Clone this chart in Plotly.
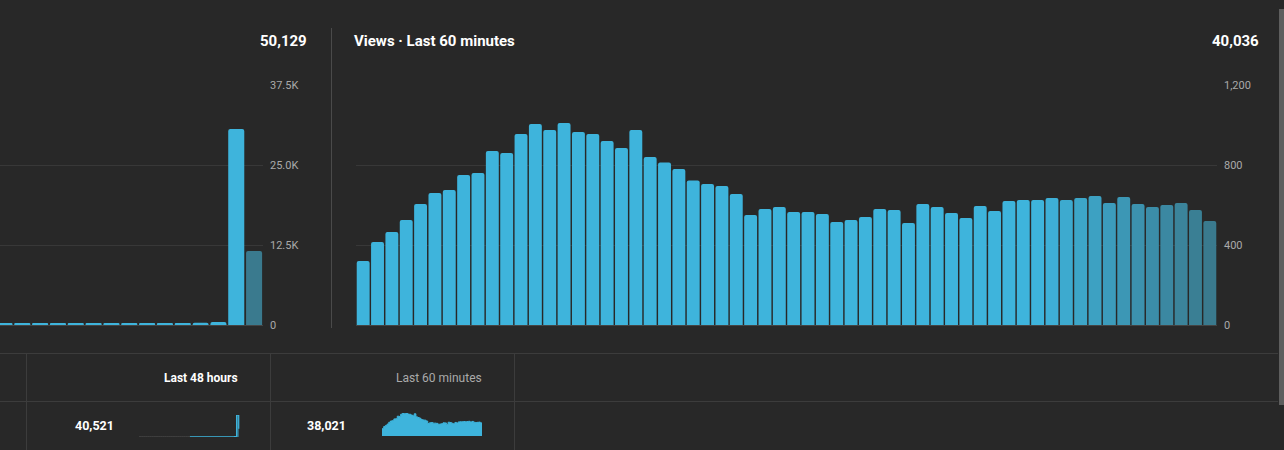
import plotly.graph_objects as go

# ---------------- data ----------------
hours = list(range(48))
hourly_views = [0] * 24 + [180, 200, 190, 210, 220, 200, 230, 210, 240, 250,
                           230, 260, 250, 240, 260, 270, 250, 260, 270, 280,
                           360, 470, 30625, 11560]

minutes = list(range(60))
minute_views = [320, 415, 465, 525, 605, 660, 675, 750, 760, 870,
                860, 955, 1005, 975, 1010, 965, 955, 920, 885, 975,
                840, 813, 780, 723, 705, 695, 655, 550, 580, 590,
                565, 565, 555, 515, 525, 540, 580, 575, 510, 605,
                590, 560, 535, 595, 570, 620, 625, 625, 635, 625,
                635, 645, 610, 640, 605, 590, 600, 610, 575, 520]

left_ticks = [0, 12500, 25000, 37500]
left_ticktext = ["0", "12.5K", "25.0K", "37.5K"]
right_ticks = [0, 400, 800, 1200]
right_ticktext = ["0", "400", "800", "1,200"]

total_48h = "50,129"
total_60m = "40,036"
title_60m = "Views · Last 60 minutes"
tab_48h = "Last 48 hours"
tab_60m = "Last 60 minutes"
spark_48h_total = "40,521"
spark_60m_total = "38,021"

# ---------------- styles ----------------
W, H = 1284, 450
BG = "#282828"
BLUE = (62, 180, 220)
DARK = (58, 122, 142)
GRID = "#383838"
TICK = "#aaaaaa"
FONT = "Roboto"


def mix(a, b, t):
    return "rgb(%d,%d,%d)" % tuple(round(a[i] + (b[i] - a[i]) * t) for i in range(3))


def fade_colors(n, nfade):
    cols = []
    for i in range(n):
        k = i - (n - nfade)
        t = 0 if k < 0 else (k + 1) / nfade
        cols.append(mix(BLUE, DARK, t))
    return cols


left_colors = [mix(BLUE, DARK, 0)] * (len(hours) - 1) + [mix(BLUE, DARK, 1)]
right_colors = fade_colors(len(minutes), 12)


def px_x(x):
    return x / W


def px_y(y):
    return 1 - y / H


fig = go.Figure()

# Left chart (last 48 hours, cropped at page edge)
fig.add_trace(go.Bar(x=hours, y=hourly_views, marker=dict(color=left_colors, cornerradius=2,
                     line=dict(width=0)), xaxis="x", yaxis="y", hoverinfo="skip",
                     showlegend=False))
# Right chart (last 60 minutes)
fig.add_trace(go.Bar(x=minutes, y=minute_views, marker=dict(color=right_colors, cornerradius=2,
                     line=dict(width=0)), xaxis="x2", yaxis="y2", hoverinfo="skip",
                     showlegend=False))

# Sparkline 48h
n_empty = 24
fig.add_trace(go.Scatter(x=hours[:n_empty + 1], y=hourly_views[:n_empty + 1], mode="lines",
                         line=dict(color="#555555", width=1, shape="hv"),
                         xaxis="x3", yaxis="y3", hoverinfo="skip", showlegend=False))
fig.add_trace(go.Scatter(x=hours[n_empty:], y=hourly_views[n_empty:], mode="lines",
                         line=dict(color="#3eb4dc", width=1.2, shape="hv"), fill="tozeroy",
                         fillcolor="rgba(62,180,220,0.6)",
                         xaxis="x3", yaxis="y3", hoverinfo="skip", showlegend=False))
# Sparkline 60m
fig.add_trace(go.Scatter(x=minutes, y=minute_views, mode="lines",
                         line=dict(color="#3eb4dc", width=1, shape="hv"), fill="tozeroy",
                         fillcolor="#3eb4dc",
                         xaxis="x4", yaxis="y4", hoverinfo="skip", showlegend=False))

ydom = [px_y(325), px_y(85)]
axis_common = dict(showgrid=False, zeroline=False, showticklabels=False, fixedrange=True,
                   automargin=False)

fig.update_layout(
    template="none",
    width=W, height=H, margin=dict(l=0, r=0, t=0, b=0, pad=0, autoexpand=False),
    paper_bgcolor=BG, plot_bgcolor=BG,
    font=dict(family=FONT, color=TICK, size=11),
    bargap=0.1,
    xaxis=dict(domain=[0, px_x(263)], range=[32.75, 47.5], **axis_common,
               showline=True, linecolor="#444444", linewidth=1),
    yaxis=dict(domain=ydom, range=[0, 37500], side="right", tickvals=left_ticks,
               ticktext=left_ticktext, showgrid=True, gridcolor=GRID, gridwidth=1,
               zeroline=False, ticks="", ticklabelstandoff=6, fixedrange=True,
               automargin=False, showline=False,
               tickfont=dict(family=FONT, size=11, color=TICK)),
    xaxis2=dict(domain=[px_x(356), px_x(1217)], range=[-0.5, 59.5], **axis_common,
                showline=True, linecolor="#444444", linewidth=1, anchor="y2"),
    yaxis2=dict(domain=ydom, range=[0, 1200], side="right", tickvals=right_ticks,
                ticktext=right_ticktext, showgrid=True, gridcolor=GRID, gridwidth=1,
                zeroline=False, ticks="", ticklabelstandoff=6, anchor="x2", fixedrange=True,
                automargin=False, showline=False,
                tickfont=dict(family=FONT, size=11, color=TICK)),
    xaxis3=dict(domain=[px_x(139), px_x(240)], range=[0, 47.6], anchor="y3", **axis_common),
    yaxis3=dict(domain=[px_y(437), px_y(415)], range=[0, 31000], anchor="x3", **axis_common),
    xaxis4=dict(domain=[px_x(382), px_x(482)], range=[0, 59], anchor="y4", **axis_common),
    yaxis4=dict(domain=[px_y(436), px_y(413)], range=[0, 1010], anchor="x4", **axis_common),
)

ann = []


def text(x, y, s, size, color, anchor="left", bold=False):
    ann.append(dict(x=px_x(x), y=px_y(y), xref="paper", yref="paper", text=("<b>%s</b>" % s) if bold else s,
                    showarrow=False, xanchor=anchor, yanchor="middle",
                    font=dict(family=FONT, size=size, color=color)))


text(309, 41, total_48h, 15, "#ffffff", "right", True)
text(352, 41, title_60m, 15, "#ffffff", "left", True)
text(1261, 41, total_60m, 15, "#ffffff", "right", True)
text(240, 378, tab_48h, 12, "#ffffff", "right", True)
text(484, 378, tab_60m, 12, "#aaaaaa", "right", False)
text(116, 425, spark_48h_total, 12.5, "#ffffff", "right", True)
text(348, 425, spark_60m_total, 12.5, "#ffffff", "right", True)
fig.update_layout(annotations=ann)

shapes = []


def line(x0, y0, x1, y1, color, width=1):
    shapes.append(dict(type="line", xref="paper", yref="paper", x0=px_x(x0), y0=px_y(y0),
                       x1=px_x(x1), y1=px_y(y1), line=dict(color=color, width=width)))


line(331.5, 28, 331.5, 328, "#4a4a4a")
line(0, 353.5, 1278, 353.5, "#3c3c3c")
line(0, 401.5, 1278, 401.5, "#3c3c3c")
for xv in (26.5, 270.5, 514.5):
    line(xv, 353.5, xv, 450, "#3c3c3c")
shapes.append(dict(type="rect", xref="paper", yref="paper", x0=px_x(1279), x1=px_x(1284),
                   y0=px_y(405), y1=px_y(9), fillcolor="#5e5e5e", line=dict(width=0)))
fig.update_layout(shapes=shapes)

fig.write_html("out.html")
